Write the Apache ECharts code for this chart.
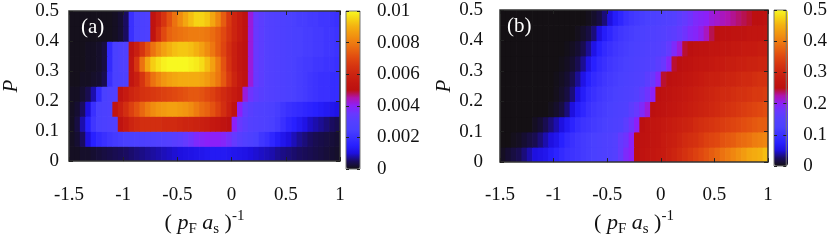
<!DOCTYPE html>
<html><head><meta charset="utf-8">
<script src="https://cdn.jsdelivr.net/npm/echarts@6/dist/echarts.min.js"></script>
<style>html,body{margin:0;padding:0;background:#fff}#c{width:830px;height:242px}</style>
</head><body><div id="c"></div>
<script>
// cell edges along (p_F a_s)^-1 and P
const xEdges = [-1.5,-1.45,-1.4,-1.35,-1.3,-1.25,-1.2,-1.15,-1.1,-1.05,-1,-0.95,-0.9,-0.85,-0.8,-0.75,-0.7,-0.65,-0.6,-0.55,-0.5,-0.45,-0.4,-0.35,-0.3,-0.25,-0.2,-0.15,-0.1,-0.05,0,0.05,0.1,0.15,0.2,0.25,0.3,0.35,0.4,0.45,0.5,0.55,0.6,0.65,0.7,0.75,0.8,0.85,0.9,0.95,1];
const pEdges = [0,0.05,0.1,0.15,0.2,0.25,0.3,0.35,0.4,0.45,0.5];

// panel (a): values in units of 1e-3, one row per P band (bottom to top)
const A_UNIT = 0.001;
const a_P000 = [0.1,0.1,0.15,0.15,0.2,0.25,0.3,0.35,0.4,0.45,0.5,0.55,0.6,0.65,0.7,0.75,0.8,0.85,0.9,0.95,1.0,1.05,1.1,1.15,1.2,1.25,1.3,1.3,1.3,1.25,1.2,1.15,1.1,1.0,0.95,0.9,0.85,0.8,0.7,0.65,0.6,0.55,0.5,0.45,0.4,0.35,0.3,0.25,0.2,0.15];
const a_P005 = [0.1,0.2,0.5,1.0,1.5,1.8,2.0,2.2,2.3,2.4,2.5,2.5,2.6,2.6,2.7,2.7,2.8,2.9,3.0,3.1,3.2,3.4,3.6,3.8,3.9,4.0,4.0,4.0,3.9,3.7,3.4,3.1,2.9,2.7,2.5,2.2,2.0,1.7,1.4,1.2,1.0,0.85,0.7,0.6,0.5,0.4,0.35,0.3,0.25,0.2];
const a_P010 = [0.1,0.3,0.8,1.5,2.2,2.5,2.6,2.7,2.8,5.2,5.6,6.0,6.2,6.3,6.3,6.3,6.3,6.2,6.2,6.2,6.1,6.0,6.0,5.9,5.8,5.7,5.5,5.4,5.2,5.0,4.0,3.5,3.2,3.0,2.9,2.8,2.7,2.5,2.3,2.0,1.7,1.5,1.3,1.1,0.9,0.8,0.7,0.6,0.5,0.4];
const a_P015 = [0.1,0.2,0.5,1.0,2.0,2.5,2.6,2.7,5.3,5.8,6.3,6.8,7.2,7.6,8.0,8.3,8.5,8.6,8.7,8.7,8.6,8.5,8.3,8.0,7.7,7.5,7.2,6.8,6.3,5.8,5.2,4.0,3.4,3.1,2.9,2.8,2.7,2.6,2.4,2.2,2.0,1.9,1.8,1.7,1.6,1.5,1.4,1.3,1.2,1.1];
const a_P020 = [0.1,0.1,0.2,0.4,0.8,1.8,2.5,2.7,2.8,5.2,5.6,6.0,6.2,6.4,6.5,6.6,6.7,6.8,6.9,7.0,7.1,7.2,7.3,7.3,7.2,7.0,6.8,6.5,6.2,5.9,5.6,5.3,4.2,3.6,3.3,3.1,3.0,2.9,2.8,2.7,2.6,2.5,2.4,2.3,2.2,2.1,2.0,2.0,1.9,1.9];
const a_P025 = [0.05,0.05,0.1,0.1,0.15,0.2,0.4,2.0,2.5,2.6,2.7,5.3,5.8,6.5,7.2,7.8,8.2,8.5,8.7,8.8,8.9,8.9,8.9,8.9,8.8,8.6,8.3,7.9,7.3,6.6,6.0,5.5,5.2,4.2,3.5,3.2,3.0,2.9,2.8,2.7,2.6,2.5,2.4,2.3,2.2,2.1,2.0,2.0,1.9,1.9];
const a_P030 = [0.05,0.05,0.05,0.1,0.1,0.15,0.3,1.8,2.5,2.7,2.8,5.3,6.5,7.8,8.8,9.4,9.7,9.9,10,10,10,10,9.9,9.8,9.6,9.2,8.7,8.0,7.2,6.4,5.8,5.4,5.1,4.2,3.5,3.2,3.0,2.9,2.8,2.7,2.6,2.5,2.4,2.3,2.3,2.2,2.2,2.1,2.1,2.0];
const a_P035 = [0.05,0.05,0.05,0.1,0.1,0.15,0.3,1.8,2.5,2.7,2.8,5.2,5.8,6.5,7.2,7.8,8.3,8.7,9.0,9.2,9.3,9.3,9.2,9.0,8.7,8.3,7.9,7.4,6.9,6.3,5.8,5.4,5.1,4.2,3.5,3.2,3.0,2.9,2.8,2.7,2.6,2.5,2.5,2.4,2.4,2.3,2.3,2.2,2.2,2.1];
const a_P040 = [0.05,0.05,0.05,0.05,0.05,0.05,0.05,0.05,0.1,0.2,0.5,2.0,2.5,2.6,2.7,5.2,6.2,7.0,7.5,7.7,7.8,7.9,8.0,8.0,8.0,7.9,7.7,7.4,7.0,6.5,6.0,5.6,5.2,4.2,3.5,3.2,3.0,2.9,2.8,2.7,2.6,2.5,2.5,2.4,2.4,2.3,2.3,2.2,2.2,2.1];
const a_P045 = [0.05,0.05,0.05,0.05,0.05,0.05,0.05,0.05,0.1,0.2,0.5,2.0,2.5,2.6,2.7,5.2,5.8,6.5,7.2,7.8,8.3,8.8,9.2,9.5,9.5,9.3,8.8,8.2,7.4,6.6,6.0,5.6,5.2,4.2,3.5,3.2,3.0,2.9,2.8,2.7,2.6,2.5,2.4,2.4,2.3,2.3,2.2,2.2,2.1,2.0];

// panel (b): values as read, one row per P band (bottom to top)
const b_P000 = [0.005,0.01,0.015,0.02,0.03,0.04,0.05,0.055,0.06,0.07,0.08,0.09,0.1,0.105,0.11,0.115,0.12,0.125,0.13,0.135,0.14,0.15,0.17,0.19,0.2,0.25,0.26,0.265,0.27,0.275,0.28,0.29,0.3,0.31,0.32,0.33,0.34,0.35,0.36,0.37,0.38,0.39,0.4,0.41,0.42,0.43,0.44,0.445,0.45,0.46];
const b_P005 = [0,0,0.003,0.005,0.01,0.015,0.02,0.03,0.04,0.05,0.06,0.075,0.09,0.1,0.11,0.115,0.12,0.125,0.13,0.135,0.14,0.15,0.17,0.18,0.2,0.25,0.255,0.26,0.265,0.27,0.28,0.285,0.29,0.3,0.31,0.315,0.32,0.33,0.34,0.345,0.35,0.36,0.365,0.37,0.38,0.385,0.39,0.4,0.405,0.41];
const b_P010 = [0,0,0,0,0,0,0.005,0.01,0.02,0.03,0.04,0.05,0.065,0.08,0.095,0.105,0.11,0.115,0.12,0.125,0.13,0.135,0.14,0.16,0.18,0.2,0.25,0.26,0.265,0.27,0.275,0.28,0.285,0.29,0.295,0.3,0.31,0.315,0.32,0.325,0.33,0.335,0.34,0.345,0.35,0.355,0.36,0.365,0.37,0.37];
const b_P015 = [0,0,0,0,0,0,0,0,0,0.003,0.008,0.015,0.03,0.05,0.07,0.085,0.1,0.11,0.115,0.12,0.125,0.13,0.135,0.14,0.16,0.175,0.19,0.21,0.25,0.255,0.26,0.265,0.27,0.275,0.28,0.285,0.29,0.295,0.3,0.305,0.31,0.315,0.32,0.325,0.33,0.335,0.34,0.345,0.35,0.355];
const b_P020 = [0,0,0,0,0,0,0,0,0,0,0.003,0.008,0.015,0.03,0.05,0.07,0.09,0.1,0.11,0.115,0.12,0.125,0.13,0.135,0.14,0.15,0.165,0.18,0.2,0.25,0.255,0.26,0.265,0.27,0.275,0.28,0.285,0.29,0.295,0.3,0.305,0.31,0.31,0.315,0.32,0.32,0.325,0.33,0.33,0.335];
const b_P025 = [0,0,0,0,0,0,0,0,0,0,0.002,0.005,0.01,0.02,0.035,0.055,0.075,0.09,0.1,0.11,0.115,0.12,0.125,0.13,0.135,0.14,0.145,0.16,0.175,0.195,0.245,0.25,0.255,0.26,0.265,0.27,0.275,0.28,0.285,0.29,0.29,0.295,0.3,0.3,0.305,0.31,0.31,0.315,0.32,0.32];
const b_P030 = [0,0,0,0,0,0,0,0,0,0,0,0.002,0.005,0.01,0.02,0.035,0.055,0.075,0.09,0.1,0.11,0.115,0.12,0.125,0.13,0.135,0.14,0.145,0.15,0.16,0.175,0.195,0.245,0.25,0.255,0.26,0.265,0.27,0.27,0.275,0.28,0.28,0.285,0.285,0.29,0.29,0.295,0.295,0.3,0.3];
const b_P035 = [0,0,0,0,0,0,0,0,0,0,0,0,0.002,0.005,0.01,0.02,0.035,0.055,0.075,0.09,0.1,0.11,0.115,0.12,0.125,0.13,0.135,0.14,0.145,0.15,0.155,0.17,0.19,0.21,0.245,0.25,0.255,0.26,0.26,0.265,0.265,0.27,0.27,0.275,0.275,0.28,0.28,0.28,0.285,0.285];
const b_P040 = [0,0,0,0,0,0,0,0,0,0,0,0,0,0,0.003,0.008,0.015,0.03,0.05,0.07,0.085,0.1,0.11,0.115,0.12,0.125,0.13,0.135,0.14,0.145,0.15,0.155,0.16,0.17,0.18,0.19,0.195,0.205,0.22,0.24,0.25,0.255,0.255,0.26,0.26,0.26,0.265,0.265,0.265,0.27];
const b_P045 = [0,0,0,0,0,0,0,0,0,0,0,0,0,0,0,0,0.003,0.008,0.015,0.03,0.05,0.07,0.085,0.1,0.11,0.115,0.12,0.125,0.13,0.135,0.14,0.145,0.15,0.16,0.17,0.18,0.19,0.195,0.2,0.21,0.215,0.22,0.225,0.23,0.235,0.24,0.245,0.25,0.25,0.255];

const rowsA = [a_P000,a_P005,a_P010,a_P015,a_P020,a_P025,a_P030,a_P035,a_P040,a_P045];
const rowsB = [b_P000,b_P005,b_P010,b_P015,b_P020,b_P025,b_P030,b_P035,b_P040,b_P045];

// palette (evenly spaced stops, black -> blue -> purple -> red -> orange -> yellow)
const palette = ['#141014','#1a0c60','#1e10e0','#2820ff','#3a30ff','#4a40ff','#5440ff','#6838ff','#8c20f8','#b014b0','#bc1010','#c41810','#cc2410','#d63410','#e04810','#e86210','#ee7c10','#f29610','#f4b010','#f6d414','#f8f820'];

const FONT = '"Liberation Serif","Times New Roman",serif';
const TXT = '#111';

function cells(rows, unit){
  const d = [];
  rows.forEach((row, j) => row.forEach((v, i) => {
    d.push([xEdges[i], xEdges[i+1], pEdges[j], pEdges[j+1], v*unit]);
  }));
  return d;
}
function renderCell(params, api){
  const p0 = api.coord([api.value(0), api.value(3)]);
  const p1 = api.coord([api.value(1), api.value(2)]);
  return {type:'rect', shape:{x:p0[0], y:p0[1], width:p1[0]-p0[0]+0.7, height:p1[1]-p0[1]+0.7},
          style:{fill: api.visual('color')}};
}
const badLen = rowsA.concat(rowsB).some(r => r.length !== 50);

function mainX(gi, pos, labels, nameGap, margin){
  const ax = {gridIndex:gi, type:'value', position:pos, min:-1.5, max:1, interval:0.5, z:10,
    axisLine:{show:false, onZero:false}, splitLine:{show:false},
    axisTick:{show:true, inside:true, length:4, lineStyle:{color:'#222', width:1}},
    axisLabel:{show:labels, margin:margin, fontSize:19, fontFamily:FONT, color:TXT}};
  if (labels){
    ax.name = '{t|( }{i|p}{s|F}{i| a}{s|s}{t| )}{u|-1}';
    ax.nameLocation = 'middle'; ax.nameGap = nameGap;
    ax.nameTextStyle = {fontFamily:FONT, color:TXT, rich:{
      t:{fontSize:22, fontFamily:FONT, color:TXT, lineHeight:28},
      i:{fontSize:22, fontFamily:FONT, color:TXT, fontStyle:'italic', lineHeight:28},
      s:{fontSize:15, fontFamily:FONT, color:TXT, lineHeight:15, verticalAlign:'bottom'},
      u:{fontSize:15, fontFamily:FONT, color:TXT, lineHeight:15, verticalAlign:'top'}}};
  }
  return ax;
}
function mainY(gi, pos, labels, nameGap, margin){
  const ax = {gridIndex:gi, type:'value', position:pos, min:0, max:0.5, interval:0.1, z:10,
    axisLine:{show:false, onZero:false}, splitLine:{show:false},
    axisTick:{show:true, inside:true, length:4, lineStyle:{color:'#222', width:1}},
    axisLabel:{show:labels, margin:margin, fontSize:19, fontFamily:FONT, color:TXT}};
  if (labels){
    ax.name = 'P'; ax.nameLocation = 'middle'; ax.nameGap = nameGap; ax.nameRotate = 90;
    ax.nameTextStyle = {fontFamily:FONT, fontSize:21, fontStyle:'italic', color:TXT};
  }
  return ax;
}
function cbY(gi, pos, labels, max, step){
  return {gridIndex:gi, type:'value', position:pos, min:0, max:max, interval:step, z:10,
    axisLine:{show:false, onZero:false}, splitLine:{show:false},
    axisTick:{show:true, inside:true, length:3, lineStyle:{color:'#222', width:1}},
    axisLabel:{show:labels, margin:17, fontSize:19, fontFamily:FONT, color:TXT,
      formatter: v => String(+v.toFixed(3))}};
}
const hiddenX = gi => ({gridIndex:gi, type:'value', min:0, max:1, show:false, axisLine:{onZero:false}});

const chart = echarts.init(document.getElementById('c'), null, {renderer:'canvas'});
chart.setOption({
  animation:false,
  backgroundColor:'#fff',
  grid:[
    {left:69, top:11, width:271, height:158, show:true, borderColor:'#333', borderWidth:1.5, z:10},
    {left:346, top:11, width:14, height:158, show:true, borderColor:'#777', borderWidth:1, z:10},
    {left:500, top:10, width:268, height:156, show:true, borderColor:'#333', borderWidth:1.5, z:10},
    {left:774, top:10, width:14, height:156, show:true, borderColor:'#777', borderWidth:1, z:10}
  ],
  xAxis:[mainX(0,'bottom',true,45,24), mainX(0,'top',false), hiddenX(1),
         mainX(2,'bottom',true,46,23), mainX(2,'top',false), hiddenX(3)],
  yAxis:[mainY(0,'left',true,47,10), mainY(0,'right',false),
         cbY(1,'right',true,0.01,0.002), cbY(1,'left',false,0.01,0.002),
         mainY(2,'left',true,44,17), mainY(2,'right',false),
         cbY(3,'right',true,0.5,0.1), cbY(3,'left',false,0.5,0.1)],
  visualMap:[
    {type:'continuous', seriesIndex:0, dimension:4, min:0, max:0.01, inRange:{color:palette},
     orient:'vertical', left:346, top:11, itemWidth:14, itemHeight:158, padding:0,
     calculable:false, text:null, showLabel:false, hoverLink:false},
    {type:'continuous', seriesIndex:1, dimension:4, min:0, max:0.5, inRange:{color:palette},
     orient:'vertical', left:774, top:10, itemWidth:14, itemHeight:156, padding:0,
     calculable:false, text:null, showLabel:false, hoverLink:false}
  ],
  graphic:[
    {type:'text', left:81, top:17, z:20, style:{text:'(a)', fill:'#fff', font:'21px '+FONT}},
    {type:'text', left:507, top:16, z:20, style:{text:'(b)', fill:'#fff', font:'21px '+FONT}},
    {type:'text', left:300, top:100, z:30, invisible:!badLen, style:{text:'LEN ERR', fill:'#0f0', font:'20px sans-serif'}}
  ],
  series:[
    {type:'custom', xAxisIndex:0, yAxisIndex:0, data:cells(rowsA, A_UNIT), renderItem:renderCell, clip:true, z:2},
    {type:'custom', xAxisIndex:3, yAxisIndex:4, data:cells(rowsB, 1), renderItem:renderCell, clip:true, z:2}
  ]
});
</script></body></html>
